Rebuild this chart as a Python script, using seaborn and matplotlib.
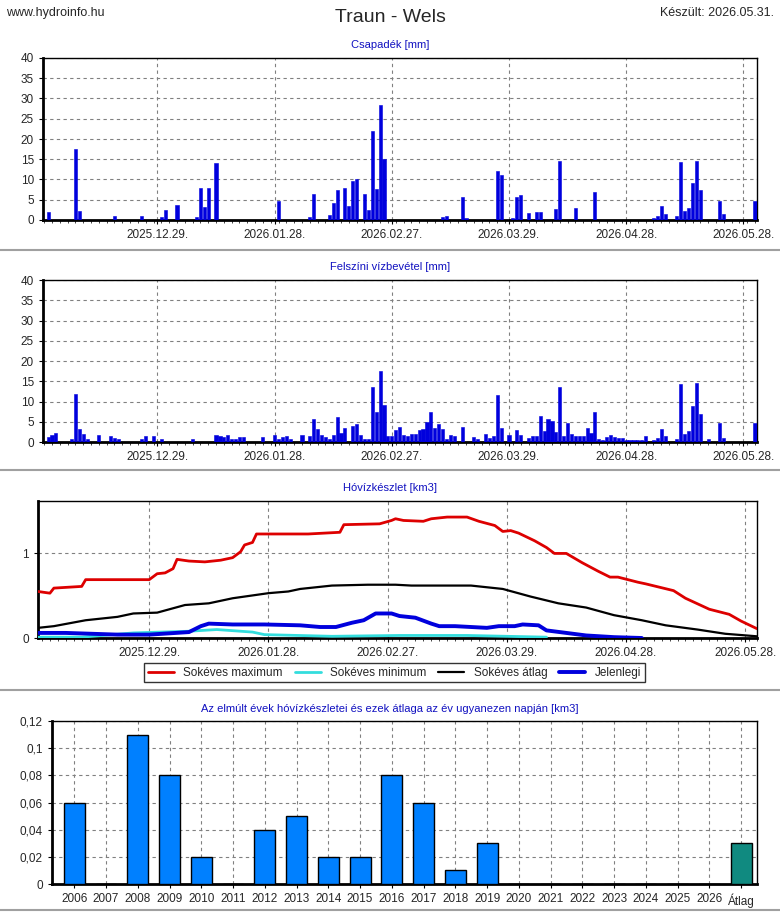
import numpy as np
import pandas as pd
import seaborn as sns
import matplotlib.pyplot as plt
from matplotlib.ticker import MultipleLocator, FixedLocator
from matplotlib.lines import Line2D

# day offsets from 2025-11-30
csap_days = [1, 8, 9, 18, 25, 30, 31, 34, 39, 40, 41, 42, 44, 60, 68, 69, 73, 74, 75, 77, 78, 79, 80,
             82, 83, 84, 85, 86, 87, 102, 103, 107, 108, 116, 117, 120, 121, 122, 124, 126, 127, 131,
             132, 136, 141, 156, 157, 158, 159, 162, 163, 164, 165, 166, 167, 168, 173, 174, 182]
csap_vals = [2, 17.5, 2.3, 1, 1, 0.8, 2.5, 3.8, 0.8, 8, 3.3, 8, 14, 4.8, 0.8, 6.5, 1.3, 4.3, 7.5, 8,
             3.5, 9.7, 10.2, 6.3, 2.5, 22, 7.7, 28.3, 15, 0.8, 1, 5.8, 0.5, 12, 11.2, 0.5, 5.6, 6.1,
             1.7, 2, 2, 2.7, 14.5, 3, 7, 0.5, 1, 3.4, 1.5, 1, 14.2, 2.2, 3, 9.2, 14.5, 7.3, 4.8, 1.5, 4.7]

felsz_days = [1, 2, 3, 7, 8, 9, 10, 11, 14, 17, 18, 19, 25, 26, 28, 30, 38, 44, 45, 46, 47, 48, 49, 50,
              51, 56, 59, 60, 61, 62, 63, 66, 68, 69, 70, 71, 72, 73, 74, 75, 76, 77, 79, 80, 81, 82,
              83, 84, 85, 86, 87, 88, 89, 90, 91, 92, 93, 94, 95, 96, 97, 98, 99, 100, 101, 102, 103,
              104, 105, 107, 110, 111, 113, 114, 115, 116, 117, 119, 121, 122, 124, 125, 126, 127, 128,
              129, 130, 131, 132, 133, 134, 135, 136, 137, 138, 139, 140, 141, 142, 143, 144, 145, 146,
              147, 148, 149, 150, 151, 152, 153, 154, 156, 157, 158, 159, 162, 163, 164, 165, 166, 167,
              168, 170, 173, 174, 182]
felsz_vals = [1.2, 1.7, 2.2, 0.7, 11.8, 3.3, 2, 0.7, 1.7, 1.5, 1, 0.7, 0.7, 1.5, 1.5, 0.7, 0.7, 1.8, 1.5,
              1.2, 1.8, 0.7, 0.7, 1.2, 1.2, 1.2, 1.8, 0.7, 1.2, 1.5, 0.7, 1.8, 1.5, 5.7, 3.3, 1.8, 1.2,
              0.8, 1.8, 6.2, 2.2, 3.5, 4, 4.5, 1.8, 0.7, 0.7, 13.6, 7.5, 17.6, 9.2, 1.5, 1.5, 3, 3.7,
              1.8, 1.5, 2, 2, 3, 3.3, 5, 7.3, 3.5, 4.5, 3.3, 0.7, 1.8, 1.5, 3.8, 1.2, 0.8, 2, 1, 1.5,
              11.7, 3.5, 1.8, 3, 1.8, 1, 1.5, 1.5, 6.5, 2.8, 5.8, 5.2, 2.5, 13.5, 1.5, 4.6, 2, 1.5, 1.5,
              1.5, 3.5, 2.3, 7.3, 0.8, 0.5, 1.2, 1.7, 1.2, 1, 1, 0.5, 0.5, 0.5, 0.5, 0.5, 1.5, 0.5, 1,
              3.3, 1.5, 0.8, 14.3, 2, 2.8, 8.8, 14.5, 7, 0.8, 4.7, 1, 4.7]

max_days = [1, 4, 5, 12, 13, 29, 31, 33, 35, 36, 39, 43, 47, 50, 52, 53, 55, 56, 69, 77, 78, 87, 90, 91,
            93, 98, 100, 104, 109, 112, 116, 118, 120, 122, 126, 129, 131, 134, 138, 142, 145, 147,
            152, 154, 161, 164, 170, 175, 178, 182]
max_vals = [0.55, 0.53, 0.59, 0.61, 0.69, 0.69, 0.76, 0.77, 0.82, 0.93, 0.91, 0.90, 0.92, 0.95, 1.02,
            1.10, 1.13, 1.23, 1.23, 1.25, 1.34, 1.35, 1.39, 1.41, 1.39, 1.38, 1.41, 1.43, 1.43, 1.38,
            1.33, 1.26, 1.27, 1.24, 1.15, 1.07, 1.0, 1.0, 0.89, 0.79, 0.72, 0.72, 0.66, 0.64, 0.56,
            0.47, 0.34, 0.28, 0.20, 0.11]
min_days = [1, 12, 25, 39, 46, 55, 58, 75, 92, 109, 129]
min_vals = [0.01, 0.01, 0.06, 0.08, 0.10, 0.07, 0.04, 0.02, 0.03, 0.03, 0.01]
avg_days = [1, 5, 13, 21, 25, 31, 38, 44, 50, 59, 64, 67, 75, 84, 91, 95, 100, 110, 118, 125, 132, 139,
            146, 153, 159, 167, 174, 182]
avg_vals = [0.12, 0.14, 0.21, 0.25, 0.29, 0.30, 0.39, 0.41, 0.47, 0.53, 0.55, 0.58, 0.62, 0.63, 0.63,
            0.62, 0.62, 0.62, 0.58, 0.49, 0.41, 0.36, 0.27, 0.21, 0.15, 0.10, 0.05, 0.02]
cur_days = [1, 8, 21, 29, 39, 42, 44, 50, 58, 67, 72, 76, 80, 83, 86, 90, 92, 96, 100, 102, 106, 114,
            117, 121, 123, 127, 129, 134, 139, 146, 153]
cur_vals = [0.06, 0.06, 0.04, 0.04, 0.07, 0.14, 0.17, 0.16, 0.16, 0.15, 0.13, 0.13, 0.18, 0.21, 0.29,
            0.29, 0.26, 0.24, 0.17, 0.14, 0.14, 0.12, 0.14, 0.14, 0.16, 0.15, 0.09, 0.06, 0.03, 0.01, 0.0]

years = [str(y) for y in range(2006, 2027)] + ["Átlag"]
year_vals = [0.06, 0, 0.11, 0.08, 0.02, 0, 0.04, 0.05, 0.02, 0.02, 0.08, 0.06, 0.01, 0.03,
             0, 0, 0, 0, 0, 0, 0, 0.03]

tick_days = [29, 59, 89, 119, 149, 179]
tick_labels = ["2025.12.29.", "2026.01.28.", "2026.02.27.", "2026.03.29.", "2026.04.28.", "2026.05.28."]

sns.set_style("white")
plt.rcParams['font.family'] = ['Liberation Sans', 'DejaVu Sans']
W, H = 780, 913
fig = plt.figure(figsize=(7.8, 9.13), dpi=100)
TC = '#1010c0'
GRID = dict(color='#808080', linestyle=(0, (3, 3)), linewidth=0.8)


def add_ax(l, t, r, b):
    return fig.add_axes([l / W, 1 - b / H, (r - l) / W, (b - t) / H])


def style(ax):
    for s in ['top', 'right']:
        ax.spines[s].set_linewidth(1)
    for s in ['left', 'bottom']:
        ax.spines[s].set_linewidth(2)
    for s in ax.spines.values():
        s.set_color('black')
    ax.tick_params(labelsize=8.5, length=3, direction='out', color='black', left=True, bottom=True)
    ax.tick_params(which='minor', length=2, bottom=True)
    ax.grid(True, **GRID)
    ax.set_axisbelow(True)
    ax.set_xlabel('')
    ax.set_ylabel('')


def date_axis(ax, lo, hi):
    ax.set_xlim(lo, hi)
    ax.xaxis.set_major_locator(FixedLocator(tick_days))
    ax.set_xticklabels(tick_labels)
    ax.xaxis.set_minor_locator(MultipleLocator(2))


fig.text(0.5, 1 - 17 / H, "Traun - Wels", ha='center', va='center', fontsize=14)
fig.text(6 / W, 1 - 13 / H, "www.hydroinfo.hu", ha='left', va='center', fontsize=9)
fig.text(774 / W, 1 - 13 / H, "Készült: 2026.05.31.", ha='right', va='center', fontsize=9)

for yy in [250, 470, 690, 910]:
    fig.add_artist(Line2D([0, 1], [1 - yy / H] * 2, color='#a0a0a0', lw=1.5))

# precipitation panels
for (top, bot, title, days, vals) in [(58, 220, "Csapadék [mm]", csap_days, csap_vals),
                                      (280, 442, "Felszíni vízbevétel [mm]", felsz_days, felsz_vals)]:
    ax = add_ax(43, top, 757, bot)
    ax.bar(days, vals, width=0.8, color='#0000dd', edgecolor='#0000dd', linewidth=0.4, zorder=3)
    ax.set_ylim(0, 40)
    ax.yaxis.set_major_locator(MultipleLocator(5))
    date_axis(ax, -0.3, 182.5)
    style(ax)
    fig.text(0.5, 1 - (top - 13) / H, title, ha='center', va='center', fontsize=8, color=TC)

# snow storage
ax3 = add_ax(38, 501, 757, 638)
series = [("Sokéves maximum", max_days, max_vals, '#dd0000', 2),
          ("Sokéves minimum", min_days, min_vals, '#33dddd', 2),
          ("Sokéves átlag", avg_days, avg_vals, 'black', 1.6),
          ("Jelenlegi", cur_days, cur_vals, '#0000dd', 2.8)]
for name, d, v, c, lw in series:
    sns.lineplot(x=d, y=v, ax=ax3, color=c, lw=lw, label=name, zorder=3)
ax3.set_ylim(0, 1.62)
ax3.set_yticks([0, 1])
date_axis(ax3, 1, 182)
style(ax3)
ax3.legend(loc='center', bbox_to_anchor=(0.5 - 3 / 719, -0.255), ncol=4, fontsize=8.5, frameon=True,
           fancybox=False, edgecolor='black', handlelength=2.2, columnspacing=1.0, borderpad=0.3)
ax3.get_legend().get_frame().set_linewidth(1)
fig.text(0.5, 1 - 488 / H, "Hóvízkészlet [km3]", ha='center', va='center', fontsize=8, color=TC)

# yearly bars
ax4 = add_ax(52, 721, 757, 884)
df = pd.DataFrame({"ev": years, "ertek": year_vals})
pal = ['#0080ff'] * (len(years) - 1) + ['#108a80']
sns.barplot(data=df, x="ev", y="ertek", hue="ev", palette=pal, legend=False, ax=ax4,
            width=0.66, edgecolor='black', linewidth=1, saturation=1, zorder=3)
ax4.set_ylim(0, 0.12)
ax4.set_yticks(np.arange(0, 0.121, 0.02))
ax4.set_yticklabels(["0", "0,02", "0,04", "0,06", "0,08", "0,1", "0,12"])
ax4.set_xlim(-0.7, len(years) - 0.5)
style(ax4)
fig.text(0.5, 1 - 709 / H, "Az elmúlt évek hóvízkészletei és ezek átlaga az év ugyanezen napján [km3]",
         ha='center', va='center', fontsize=8, color=TC)

fig.savefig("out.png", dpi=100)
